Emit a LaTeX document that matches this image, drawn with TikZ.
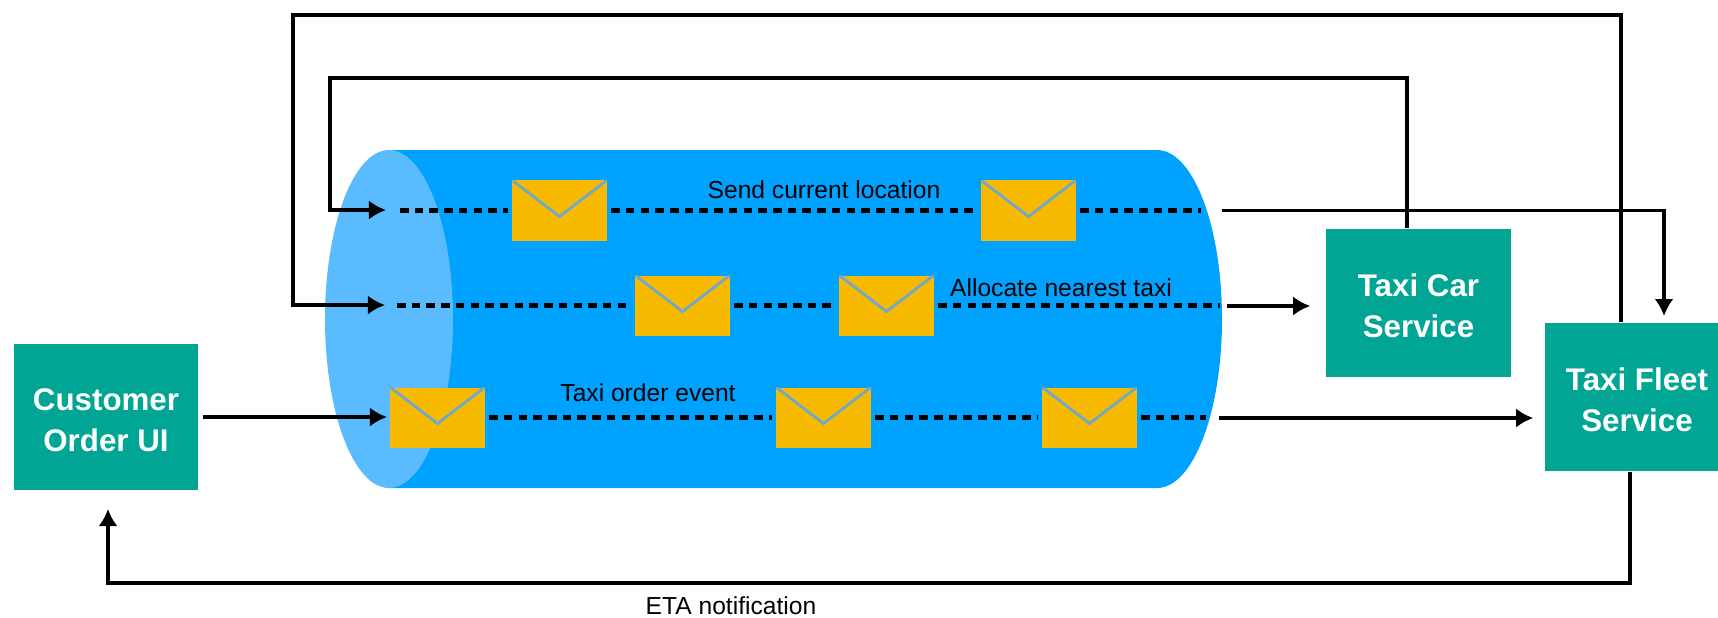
\documentclass[tikz,border=0pt]{standalone}
\usepackage{fontspec}
\setmainfont{Liberation Sans}
\usepackage{xcolor}
\definecolor{BusBlue}{HTML}{00A2FF}
\definecolor{BusEnd}{HTML}{5BBBFF}
\definecolor{EnvelopeYellow}{HTML}{F8BA00}
\definecolor{EnvelopeFlap}{HTML}{6FA8C8}
\definecolor{ServiceGreen}{HTML}{00A693}
\usetikzlibrary{arrows.meta}
\tikzset{>={Latex[length=0.17cm,width=0.19cm]}}
\tikzstyle{flowline}=[->,black,line width=0.9pt]
\tikzstyle{eventline}=[black,line width=1.2pt,dash pattern=on 0.085cm off 0.062cm,shorten <=0.04cm,shorten >=0.04cm]
\tikzstyle{envelope}=[fill=EnvelopeYellow,minimum width=0.94cm,minimum height=0.6cm,inner sep=0,
	path picture={\draw[EnvelopeFlap,line width=0.8pt] (path picture bounding box.north west) -- ([yshift=-0.36cm]path picture bounding box.north) -- (path picture bounding box.north east);}]
\tikzstyle{servicebox}=[fill=ServiceGreen,text=white,font=\fontsize{8.9pt}{11.8pt}\selectfont\bfseries,align=center,inner sep=0,text height=0.70cm]
\tikzstyle{eventtext}=[black,font=\fontsize{7pt}{8pt}\selectfont,inner sep=0]
\begin{document}
\begin{tikzpicture}[x=0.01cm,y=-0.01cm]
		
		\useasboundingbox (0,0) rectangle (1718,617);
		
		%% KAFKA CYLINDER
		\fill[BusBlue] (389,150) -- (1157,150) arc[start angle=-90,end angle=90,x radius=65,y radius=169] -- (389,488) -- cycle;
		\fill[BusEnd] (389,319) ellipse [x radius=64,y radius=169];
		
		%% SERVICES
		\node[servicebox,minimum width=1.84cm,minimum height=1.46cm] (CustomerUI) at (106,417) {Customer\\Order UI};
		\node[servicebox,minimum width=1.85cm,minimum height=1.48cm] (TaxiCar) at (1418.5,303) {Taxi Car\\Service};
		\node[servicebox,minimum width=1.84cm,minimum height=1.48cm] (TaxiFleet) at (1637,397) {Taxi Fleet\\Service};
		
		%% ENVELOPES
		\node[envelope] (SendA) at (559.5,210.5) {};
		\node[envelope] (SendB) at (1028.5,210.5) {};
		
		\node[envelope] (AllocA) at (682.5,305.5) {};
		\node[envelope] (AllocB) at (886.5,305.5) {};
		
		\node[envelope] (OrderA) at (437.5,417.5) {};
		\node[envelope] (OrderB) at (823.5,417.5) {};
		\node[envelope] (OrderC) at (1089.5,417.5) {};
		
		%% DASHED EVENT LINES
		\coordinate (SendStart) at (396,210.5);
		\coordinate (SendEnd) at (1205,210.5);
		\coordinate (AllocStart) at (393,305.5);
		\coordinate (AllocEnd) at (1224,305.5);
		\coordinate (OrderEnd) at (1210,417.5);
		
		\draw[eventline] (SendStart) -- (SendA.west);
		\draw[eventline] (SendA.east) -- (SendB.west);
		\draw[eventline] (SendB.east) -- (SendEnd);
		
		\draw[eventline] (AllocStart) -- (AllocA.west);
		\draw[eventline] (AllocA.east) -- (AllocB.west);
		\draw[eventline] (AllocB.east) -- (AllocEnd);
		
		\draw[eventline] (OrderA.east) -- (OrderB.west);
		\draw[eventline] (OrderB.east) -- (OrderC.west);
		\draw[eventline] (OrderC.east) -- (OrderEnd);
		
		%% EVENT LABELS
		\node[eventtext] (SendLabel) at (824,190) {Send current location};
		\node[eventtext] (AllocLabel) at (1061,288) {Allocate nearest taxi};
		\node[eventtext] (OrderLabel) at (648,393) {Taxi order event};
		\node[eventtext] (EtaLabel) at (731,606) {ETA notification};
		
		%% ARROWS LEFT OF THE CYLINDER
		\coordinate (SendIn) at (386,210);
		\coordinate (AllocIn) at (385,305);
		\coordinate (OrderIn) at (387,417);
		\coordinate (UIback) at (108,509);
		
		\draw[flowline] (TaxiFleet.north -| 1621,0) -- (1621,15) -- (293,15) -- (293,305) -- (AllocIn);
		\draw[flowline] (TaxiCar.north -| 1407,0) -- (1407,78) -- (330,78) -- (330,210) -- (SendIn);
		\draw[flowline] ([xshift=0.04cm]CustomerUI.east) -- (OrderIn);
		\draw[flowline] (TaxiFleet.south -| 1630,0) -- (1630,583) -- (108,583) -- (UIback);
		
		%% ARROWS RIGHT OF THE CYLINDER
		\coordinate (SendOut) at (1222,210.5);
		\coordinate (AllocOut) at (1227,306);
		\coordinate (OrderOut) at (1219,418);
		\coordinate (FleetIn) at (1664,316);
		
		\draw[flowline] (SendOut) -- (1664,210.5) -- (FleetIn);
		\draw[flowline] (AllocOut) -- ([xshift=-0.15cm]TaxiCar.west |- AllocOut);
		\draw[flowline] (OrderOut) -- ([xshift=-0.11cm]TaxiFleet.west |- OrderOut);
		
	\end{tikzpicture}
\end{document}
